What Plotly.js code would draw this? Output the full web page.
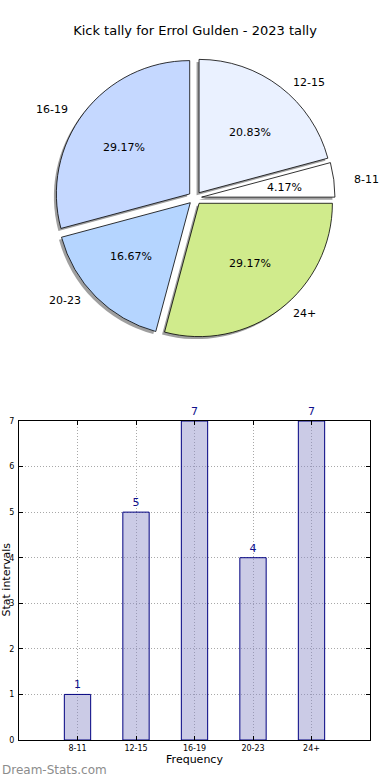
<!DOCTYPE html>
<html>
<head>
<meta charset="utf-8">
<script src="https://cdn.plot.ly/plotly-3.0.1.min.js"></script>
<style>
  html, body { margin: 0; padding: 0; background: #fff; }
  #chart { width: 390px; height: 780px; }
</style>
</head>
<body>
<div id="chart"></div>
<script>
// ---- Data ----
const titleText = 'Kick tally for Errol Gulden - 2023 tally';
const pieLabels = ['12-15', '8-11', '24+', '20-23', '16-19'];
const pieValues = [5, 1, 7, 4, 7];
const pieColors = ['#eaf1ff', '#ffffff', '#d0eb8c', '#b5d5ff', '#c5d8ff'];
const barCategories = ['8-11', '12-15', '16-19', '20-23', '24+'];
const barValues = [1, 5, 7, 4, 7];
const yTicks = [0, 1, 2, 3, 4, 5, 6, 7];

// ---- Layout constants ----
const W = 390, H = 780;
const font = 'DejaVu Sans, Liberation Sans, sans-serif';
const pieCx = 195, pieCy = 198;
const pieHalf = 140;           // half-size of pie box (radius*(1+pull))
const pull = 0.05;
const shadowOff = 2.5;
const gridDash = '1px,2px';

const total = pieValues.reduce((a, b) => a + b, 0);
const pctText = pieValues.map(v => (v / total * 100).toFixed(2) + '%');

function pieDomain(dx, dy) {
  return {
    x: [(pieCx - pieHalf + dx) / W, (pieCx + pieHalf + dx) / W],
    y: [1 - (pieCy + pieHalf + dy) / H, 1 - (pieCy - pieHalf + dy) / H]
  };
}

const shadowPie = {
  type: 'pie',
  labels: pieLabels,
  values: pieValues,
  sort: false,
  direction: 'clockwise',
  rotation: 0,
  pull: pieValues.map(() => pull),
  marker: { colors: pieValues.map(() => 'rgba(80,80,80,0.55)'), line: { width: 0 } },
  textinfo: 'none',
  hoverinfo: 'skip',
  showlegend: false,
  domain: pieDomain(-shadowOff, shadowOff)
};

const mainPie = {
  type: 'pie',
  labels: pieLabels,
  values: pieValues,
  sort: false,
  direction: 'clockwise',
  rotation: 0,
  pull: pieValues.map(() => pull),
  marker: { colors: pieColors, line: { color: '#000000', width: 0.8 } },
  textinfo: 'none',
  showlegend: false,
  domain: pieDomain(0, 0)
};

const bars = {
  type: 'bar',
  x: barCategories,
  y: barValues,
  width: 0.45,
  marker: { color: 'rgba(140,140,200,0.45)', line: { color: '#000080', width: 1 } },
  text: barValues.map(String),
  textposition: 'outside',
  cliponaxis: false,
  textfont: { family: font, size: 11, color: '#10108c' },
  showlegend: false,
  xaxis: 'x',
  yaxis: 'y'
};

// Pie text annotations (positions derived from the slice angles)
const annotations = [];
let cum = 0;
pieValues.forEach((v, i) => {
  const mid = (cum + v / 2) / total * 2 * Math.PI;
  cum += v;
  const s = Math.sin(mid), c = Math.cos(mid);
  annotations.push({
    xref: 'paper', yref: 'paper',
    x: (pieCx + 158 * s) / W, y: 1 - (pieCy - 145 * c) / H,
    text: pieLabels[i], showarrow: false,
    xanchor: s >= 0 ? 'left' : 'right', yanchor: 'middle',
    font: { family: font, size: 11, color: '#000' }
  });
  annotations.push({
    xref: 'paper', yref: 'paper',
    x: (pieCx + 90 * s) / W, y: 1 - (pieCy - 83 * c) / H,
    text: pctText[i], showarrow: false,
    xanchor: 'center', yanchor: 'middle',
    font: { family: font, size: 11, color: '#000' }
  });
});

// y axis title
annotations.push({
  xref: 'paper', yref: 'paper',
  x: 5.5 / W, y: 1 - 580 / H,
  text: 'Stat intervals', showarrow: false, textangle: -90,
  xanchor: 'center', yanchor: 'middle',
  font: { family: font, size: 11, color: '#000' }
});
// watermark
annotations.push({
  xref: 'paper', yref: 'paper',
  x: 0, y: 1 - 770 / H,
  text: 'Dream-Stats.com', showarrow: false,
  xanchor: 'left', yanchor: 'middle',
  font: { family: font, size: 12, color: '#8c8c8c' }
});

const layout = {
  width: W, height: H,
  margin: { l: 0, r: 0, t: 0, b: 0 },
  paper_bgcolor: '#fff',
  plot_bgcolor: '#fff',
  font: { family: font, color: '#000' },
  title: {
    text: titleText,
    x: 0.5, xanchor: 'center',
    y: 1 - 30 / H, yanchor: 'middle',
    font: { family: font, size: 13, color: '#000' }
  },
  xaxis: {
    domain: [19 / W, 370 / W],
    anchor: 'y',
    type: 'category',
    range: [-1, 5],
    showline: true, linecolor: '#000', linewidth: 1, mirror: 'allticks',
    ticks: 'inside', ticklen: 4, tickcolor: '#000',
    showgrid: true, gridcolor: '#a8a8a8', griddash: gridDash, gridwidth: 1,
    tickfont: { family: font, size: 8, color: '#000' },
    title: { text: 'Frequency', standoff: 3, font: { family: font, size: 11, color: '#000' } },
    zeroline: false,
    fixedrange: true
  },
  yaxis: {
    domain: [1 - 740 / H, 1 - 421 / H],
    anchor: 'x',
    range: [0, 7],
    tickvals: yTicks,
    showline: true, linecolor: '#000', linewidth: 1, mirror: 'allticks',
    ticks: 'inside', ticklen: 4, tickcolor: '#000',
    showgrid: true, gridcolor: '#a8a8a8', griddash: gridDash, gridwidth: 1,
    tickfont: { family: font, size: 8, color: '#000' },
    ticklabelstandoff: 2,
    zeroline: false,
    fixedrange: true
  },
  annotations: annotations
};

Plotly.newPlot('chart', [shadowPie, mainPie, bars], layout, { displayModeBar: false, staticPlot: true });
</script>
</body>
</html>
